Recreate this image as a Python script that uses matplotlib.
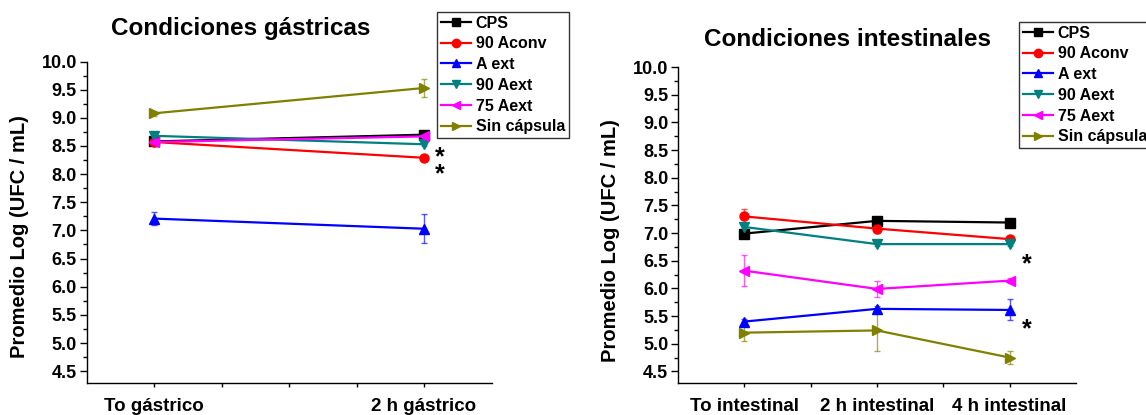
import matplotlib
matplotlib.use("Agg")
import matplotlib.pyplot as plt
from matplotlib.ticker import FixedLocator, MultipleLocator
from matplotlib.transforms import offset_copy

plt.rcParams['font.family'] = ['Liberation Sans', 'DejaVu Sans']
plt.rcParams['font.weight'] = 'bold'

series = ["CPS", "90 Aconv", "A ext", "90 Aext", "75 Aext", "Sin cápsula"]
colors = ["#000000", "#FF0000", "#0000FF", "#008080", "#FF00FF", "#808000"]
markers = ["s", "o", "^", "v", "<", ">"]

# Gastric conditions
gastric_labels = ["To gástrico", "2 h gástrico"]
gastric_cps = [8.58, 8.70]
gastric_aconv90 = [8.57, 8.29]
gastric_aext = [7.21, 7.03]
gastric_aext90 = [8.68, 8.53]
gastric_aext75 = [8.57, 8.67]
gastric_sin = [9.08, 9.53]
gastric_err_cps = [0.04, 0.03]
gastric_err_aconv90 = [0.03, 0.02]
gastric_err_aext = [0.11, 0.26]
gastric_err_aext90 = [0.05, 0.03]
gastric_err_aext75 = [0.06, 0.04]
gastric_err_sin = [0.04, 0.16]

# Intestinal conditions
intest_labels = ["To intestinal", "2 h intestinal", "4 h intestinal"]
intest_cps = [6.99, 7.22, 7.19]
intest_aconv90 = [7.30, 7.08, 6.89]
intest_aext = [5.40, 5.63, 5.61]
intest_aext90 = [7.11, 6.80, 6.80]
intest_aext75 = [6.32, 5.99, 6.14]
intest_sin = [5.20, 5.24, 4.75]
intest_err_cps = [0.06, 0.03, 0.02]
intest_err_aconv90 = [0.13, 0.08, 0.04]
intest_err_aext = [0.05, 0.05, 0.19]
intest_err_aext90 = [0.04, 0.03, 0.03]
intest_err_aext75 = [0.28, 0.14, 0.05]
intest_err_sin = [0.16, 0.37, 0.12]

gastric_stars_y = [8.29]          # pair of stars centred here
intest_stars_y = [6.58, 5.41]

fig = plt.figure(figsize=(11.46, 4.15), dpi=100)
axL = fig.add_axes([0.0755, 0.0771, 0.3534, 0.7747])
axR = fig.add_axes([0.5916, 0.0771, 0.3473, 0.7614])


def draw(ax, labels, vals, errs, xlim, minor_step, star_x, stars_y, star_text,
         title, title_xy, leg_xy):
    x = list(range(1, len(labels) + 1))
    handles = []
    for v, e, c, m, name in zip(vals, errs, colors, markers, series):
        ax.errorbar(x, v, yerr=e, fmt='none', ecolor=c, elinewidth=1.0,
                    capsize=2.5, capthick=1.0, alpha=0.65, zorder=2)
        h, = ax.plot(x, v, color=c, marker=m, markersize=6.5, linewidth=1.6,
                     label=name, zorder=3, clip_on=False)
        handles.append(h)
    ax.set_xlim(*xlim)
    ax.set_ylim(4.29, 10.0)
    for s in ['top', 'right']:
        ax.spines[s].set_visible(False)
    for s in ['left', 'bottom']:
        ax.spines[s].set_linewidth(1.0)
    ax.yaxis.set_major_locator(MultipleLocator(0.5))
    ax.yaxis.set_minor_locator(MultipleLocator(0.25))
    ax.set_yticklabels([f"{t:.1f}" for t in ax.get_yticks()])
    ticks = []
    t = xlim[0] + minor_step
    while t < xlim[1] - 1e-9:
        ticks.append(round(t, 4))
        t += minor_step
    ax.xaxis.set_major_locator(FixedLocator(ticks))
    ax.set_xticklabels([labels[int(tk) - 1] if abs(tk - round(tk)) < 1e-6 else "" for tk in ticks])
    ax.tick_params(axis='y', which='major', direction='out', length=5, width=1, labelsize=13, pad=2)
    ax.tick_params(axis='y', which='minor', direction='out', length=3, width=1)
    ax.tick_params(axis='x', which='major', direction='out', length=3, width=1, labelsize=13.5, pad=8)
    for lab in ax.get_xticklabels() + ax.get_yticklabels():
        lab.set_fontweight('bold')
    tr = offset_copy(ax.transData, fig=fig, x=0, y=-8, units='dots')
    for sy in stars_y:
        ax.text(star_x, sy, star_text, fontsize=18, fontweight='bold', ha='center',
                va='center', linespacing=0.62, transform=tr)
    fig.text(title_xy[0], title_xy[1], title, fontsize=17.5, fontweight='bold', ha='center', va='center')
    leg = ax.legend(handles=handles, loc='upper left', bbox_to_anchor=leg_xy,
                    bbox_transform=fig.transFigure, frameon=True, fancybox=False,
                    numpoints=1, handlelength=1.9, handletextpad=0.3,
                    borderpad=0.22, labelspacing=0.36, borderaxespad=0.0,
                    prop={'weight': 'bold', 'size': 11.5})
    leg.get_frame().set_edgecolor('black')
    leg.get_frame().set_linewidth(1.0)
    for h in leg.legend_handles:
        h.set_markersize(6)


draw(axL, gastric_labels,
     [gastric_cps, gastric_aconv90, gastric_aext, gastric_aext90, gastric_aext75, gastric_sin],
     [gastric_err_cps, gastric_err_aconv90, gastric_err_aext, gastric_err_aext90, gastric_err_aext75, gastric_err_sin],
     (0.75, 2.25), 0.25, 2.06, gastric_stars_y, "*\n*", "Condiciones gástricas",
     (241 / 1146, 1 - 29 / 415), (437 / 1146, 1 - 12 / 415))

draw(axR, intest_labels,
     [intest_cps, intest_aconv90, intest_aext, intest_aext90, intest_aext75, intest_sin],
     [intest_err_cps, intest_err_aconv90, intest_err_aext, intest_err_aext90, intest_err_aext75, intest_err_sin],
     (0.5, 3.5), 0.5, 3.13, intest_stars_y, "*", "Condiciones intestinales",
     (848 / 1146, 1 - 39 / 415), (1019 / 1146, 1 - 22 / 415))

fig.text(20 / 1146, 1 - 237 / 415, "Promedio Log (UFC / mL)", rotation=90, fontsize=14.5,
         fontweight='bold', ha='center', va='center')
fig.text(610 / 1146, 1 - 241 / 415, "Promedio Log (UFC / mL)", rotation=90, fontsize=14.5,
         fontweight='bold', ha='center', va='center')

fig.savefig("out.png", dpi=100)
